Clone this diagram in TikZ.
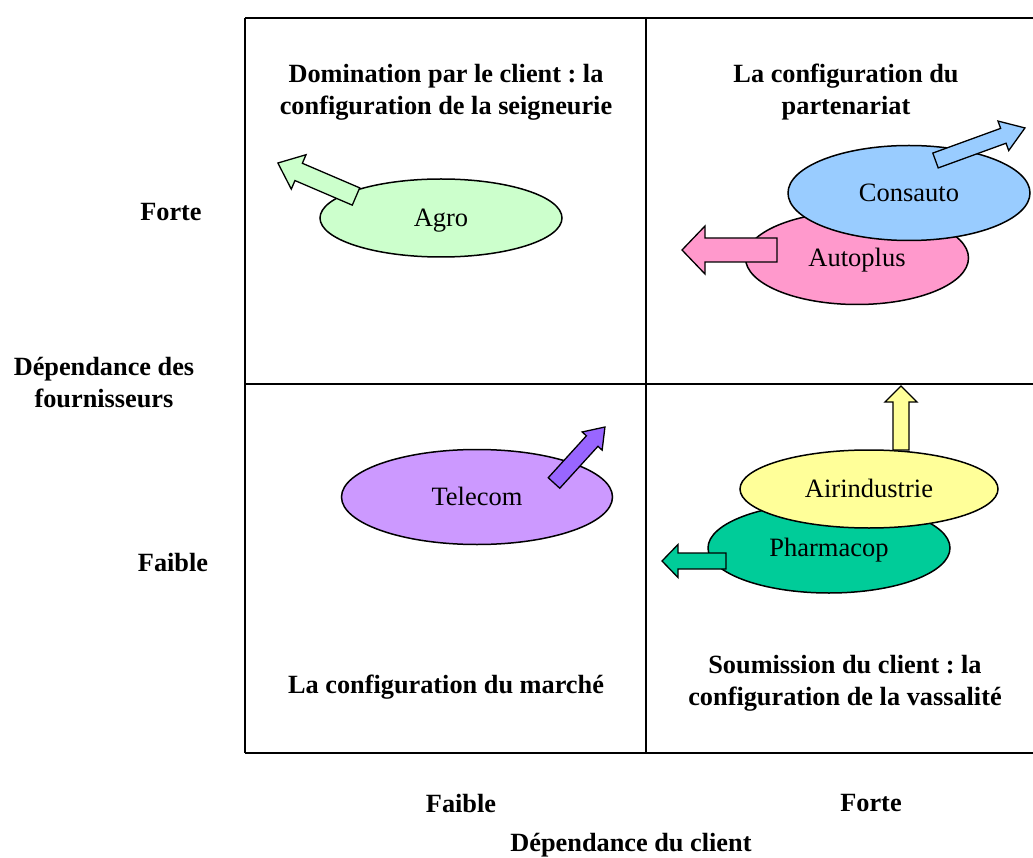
\documentclass[tikz,border=0pt]{standalone}
\usepackage{fontspec}
\setmainfont{Liberation Serif}
\usetikzlibrary{shapes.geometric}
\frenchspacing

\definecolor{agrogreen}{HTML}{CCFFCC}
\definecolor{consblue}{HTML}{99CCFF}
\definecolor{autopink}{HTML}{FF99CC}
\definecolor{airyellow}{HTML}{FFFF99}
\definecolor{pharmagreen}{HTML}{00CC99}
\definecolor{telepurple}{HTML}{CC99FF}
\definecolor{teledark}{HTML}{9966FF}

\tikzset{
    firm/.style={ellipse,draw,line width=1.5pt,inner sep=0pt,text height=17.5pt,text depth=0pt,
        font=\fontsize{26.5}{32}\selectfont},
    title/.style={align=center,font=\fontsize{26.3}{32}\selectfont\bfseries},
    grid line/.style={line width=2.5pt},
    move/.style={draw,line width=1.3pt,line join=miter}
}

% tail point, angle, length, head length, shaft half width, head half width, colour
\newcommand{\blockarr}[7]{%
    \draw[move,fill=#7,shift={#1},rotate=#2] (0,-#5) -- (#3-#4,-#5) -- (#3-#4,-#6)
        -- (#3,0) -- (#3-#4,#6) -- (#3-#4,#5) -- (0,#5) -- cycle;}

\begin{document}
\begin{tikzpicture}[x=1pt,y=-1pt]
    \useasboundingbox (0,0) rectangle (1033,858);
    \draw[grid line] (245,18) -- (1033,18);
    \draw[grid line] (245,753) -- (1033,753);
    \draw[grid line] (245,384) -- (1033,384);
    \draw[grid line] (245,18) -- (245,753);
    \draw[grid line] (646,18) -- (646,753);

    \node[title] (seign) at (446,92) {Domination par le client : la\\configuration de la seigneurie};
    \node[title] (part) at (846,92) {La configuration du\\partenariat};
    \node[title] (march) at (446,687) {La configuration du marché};
    \node[title] (vass) at (845,683) {Soumission du client : la\\configuration de la vassalité};

    \node[title] (forte) at (171,212) {Forte};
    \node[title] (faible) at (173,563) {Faible};
    \node[title] (fourn) at (104,383) {Dépendance des\\fournisseurs};
    \node[title] (xfaible) at (461,803) {Faible};
    \node[title] (xforte) at (871,803) {Forte};
    \node[title] (client) at (631,845) {Dépendance du client};

    \node[firm,fill=agrogreen,minimum width=242pt,minimum height=78pt] (agro) at (441,218) {Agro};
    \node[firm,fill=autopink,minimum width=223pt,minimum height=93pt] (autoplus) at (857,258) {Autoplus};
    \node[firm,fill=consblue,minimum width=242pt,minimum height=95pt] (consauto) at (909,193) {Consauto};
    \node[firm,fill=telepurple,minimum width=271pt,minimum height=95pt] (telecom) at (477,497) {Telecom};
    \node[firm,fill=pharmagreen,minimum width=242pt,minimum height=90pt] (pharma) at (829,548) {Pharmacop};
    \node[firm,fill=airyellow,minimum width=258pt,minimum height=78pt] (airind) at (869,489) {Airindustrie};

    \blockarr{(356,196.5)}{156.8}{85}{22.6}{9.4}{18.7}{agrogreen}
    \blockarr{(935.5,160.5)}{20}{95.2}{23}{7.9}{15.7}{consblue}
    \blockarr{(777,250)}{180}{95}{23}{12}{24}{autopink}
    \blockarr{(554,483)}{47.7}{75.7}{19}{7.8}{13.5}{teledark}
    \blockarr{(901,450)}{90}{64}{16}{8}{16}{airyellow}
    \blockarr{(726,561)}{180}{64}{16}{8}{16.5}{pharmagreen}
\end{tikzpicture}
\end{document}
